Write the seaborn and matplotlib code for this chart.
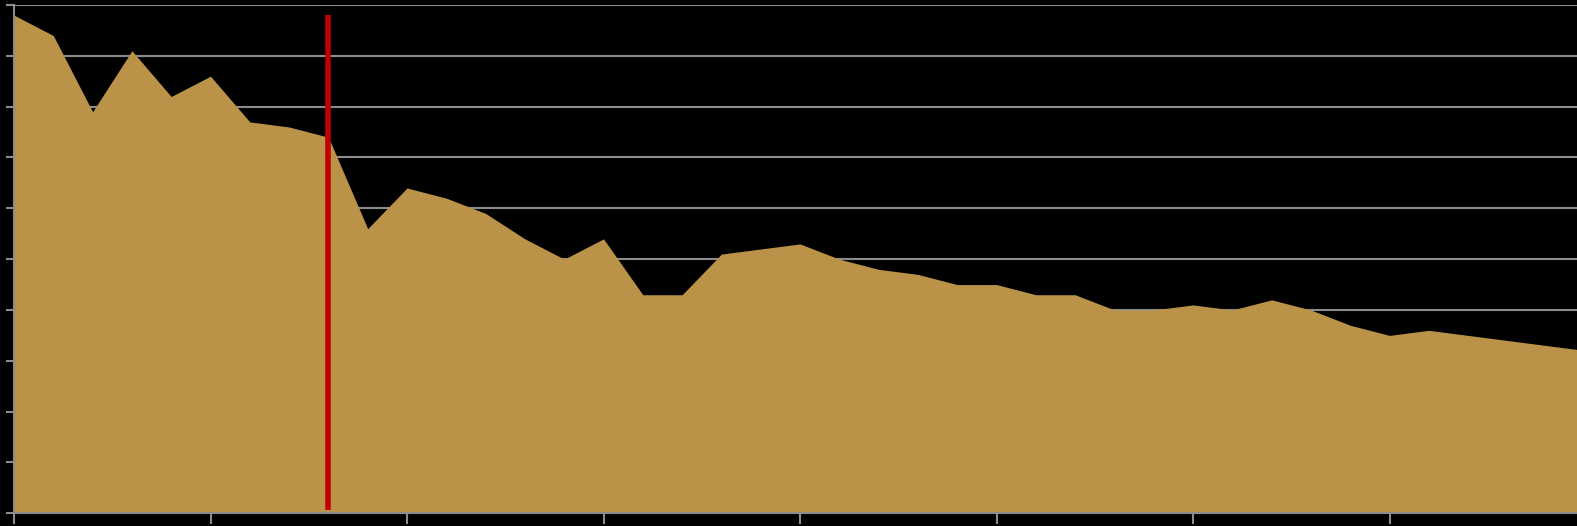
import matplotlib
matplotlib.use("Agg")
import matplotlib.pyplot as plt
import seaborn as sns
import numpy as np
import pandas as pd

# values
values = [98, 94, 79, 91, 82, 86, 77, 76, 74, 56, 64, 62, 59, 54, 50, 54,
          43, 43, 51, 52, 53, 50, 48, 47, 45, 45, 43, 43, 40, 40, 41, 40,
          42, 40, 37, 35, 36, 35, 34, 33, 32]
steps = list(range(len(values)))
marker_x = 8.0
marker_range = [0.65, 98]

df = pd.DataFrame({"step": steps, "value": values})

sns.set_style("dark")
fig = plt.figure(figsize=(15.77, 5.26), dpi=100, facecolor="black")
ax = fig.add_axes([14 / 1577, 12.7 / 526, 1 - 14 / 1577, 508.3 / 526])
ax.set_facecolor("black")

sns.lineplot(data=df, x="step", y="value", ax=ax, color="#ba9248", linewidth=0)
ax.fill_between(df["step"], 0, df["value"], color="#ba9248", linewidth=0, zorder=2)
ax.vlines(marker_x, marker_range[0], marker_range[1], color="#c00000", linewidth=4, zorder=3)

ax.set_xlim(0, 39.77)
ax.set_ylim(0, 100)
ax.set_xticks(np.arange(0, 40, 5))
ax.set_yticks(np.arange(0, 101, 10))
ax.set_xticklabels([])
ax.set_yticklabels([])
ax.set_xlabel("")
ax.set_ylabel("")

ax.grid(axis="y", color="#8c8c8c", linewidth=1.5, zorder=1)
ax.grid(axis="x", visible=False)
ax.set_axisbelow(True)

for side in ["top", "right"]:
    ax.spines[side].set_visible(False)
for side in ["left", "bottom"]:
    ax.spines[side].set_visible(True)
    ax.spines[side].set_color("#8c8c8c")
    ax.spines[side].set_linewidth(1.5)
    ax.spines[side].set_zorder(4)

ax.tick_params(axis="y", left=True, length=6, width=1.5, color="#8c8c8c")
ax.tick_params(axis="x", bottom=True, length=8, width=1.5, color="#8c8c8c")

fig.savefig("out.png", dpi=100, facecolor="black")
